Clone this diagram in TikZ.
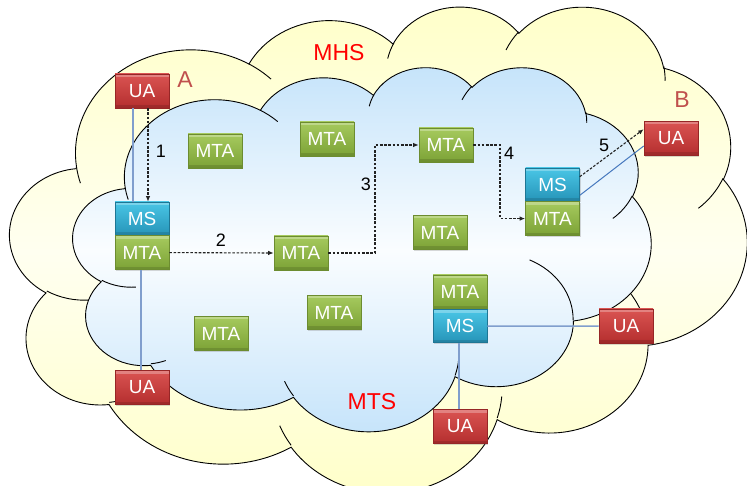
\documentclass[tikz,border=0pt]{standalone}
\usepackage{fontspec}
\setmainfont{Liberation Sans}
\usetikzlibrary{arrows.meta,shadows}

\definecolor{mhsfillA}{RGB}{255,255,200}
\definecolor{mhsfillB}{RGB}{255,255,240}
\definecolor{mtsfillA}{RGB}{196,227,250}
\definecolor{mtsfillB}{RGB}{250,253,255}
\definecolor{uatop}{RGB}{218,84,82}
\definecolor{uabot}{RGB}{180,46,46}
\definecolor{uaedge}{RGB}{150,38,38}
\definecolor{mtatop}{RGB}{166,202,94}
\definecolor{mtabot}{RGB}{124,162,54}
\definecolor{mtaedge}{RGB}{108,140,48}
\definecolor{mstop}{RGB}{74,198,230}
\definecolor{msbot}{RGB}{38,148,184}
\definecolor{msedge}{RGB}{30,118,148}
\definecolor{linkblue}{RGB}{128,158,205}
\definecolor{linkdark}{RGB}{70,120,190}
\definecolor{labelred}{RGB}{255,0,0}
\definecolor{labelbrown}{RGB}{192,80,77}
\definecolor{flowgrey}{RGB}{35,35,35}

% elliptical arc given by a visual start angle and sweep (converted to parametric angles)
\newcommand\cloudarc[4]{%
  \pgfextra{%
    \pgfmathparse{(#3)+atan(((#1)-(#2))*sin(#3)*cos(#3)/((#2)*cos(#3)*cos(#3)+(#1)*sin(#3)*sin(#3)))}%
    \xdef\cloudarcS{\pgfmathresult}%
    \pgfmathparse{(#3)+(#4)+atan(((#1)-(#2))*sin((#3)+(#4))*cos((#3)+(#4))/((#2)*cos((#3)+(#4))*cos((#3)+(#4))+(#1)*sin((#3)+(#4))*sin((#3)+(#4))))}%
    \xdef\cloudarcE{\pgfmathresult}%
  }%
  arc[start angle=\cloudarcS, end angle=\cloudarcE, x radius=#1, y radius=#2]%
}

% cloud outline in a 100 x 100 box
\newcommand\cloudoutline{%
  (9.0278,33.2639)
  \cloudarc{15.6319}{21.2731}{-190.4875}{123.7805}
  \cloudarc{12.3449}{16.8218}{-144.1024}{89.9452}
  \cloudarc{10.1042}{13.7616}{-145.8079}{99.7230}
  \cloudarc{11.2431}{15.2662}{-130.9861}{117.2417}
  \cloudarc{12.3449}{16.8356}{-78.7089}{109.0269}
  \cloudarc{15.6829}{21.3426}{-46.2673}{130.2690}
  \cloudarc{13.3912}{18.2106}{0.6250}{114.0333}
  \cloudarc{15.6296}{21.3310}{22.4516}{115.1726}
  \cloudarc{17.8704}{24.4051}{66.2426}{75.7110}
  \cloudarc{10.0926}{13.6991}{-274.9421}{146.7356}
  \cloudarc{10.0579}{13.7616}{-246.8285}{152.5189}
  -- cycle}

% inner creases of the cloud bumps
\newcommand\cloudcreases{%
  (10.8634,60.5949) \cloudarc{10.0579}{13.7616}{86.7420}{26.4295}
  (16.0370,80.7847) \cloudarc{10.0926}{13.6991}{73.6105}{11.4475}
  (38.1435,90.4861) \cloudarc{15.6296}{21.3310}{137.6242}{14.0811}
  (66.7292,80.4421) \cloudarc{15.6296}{21.3310}{6.4533}{15.9984}
  (79.0023,53.1343) \cloudarc{13.3912}{18.2106}{-70.2924}{70.9174}
  (96.7546,35.5417) \cloudarc{12.3449}{16.8356}{30.3180}{27.7515}
  (88.7130,12.5602) \cloudarc{11.2431}{15.2662}{-13.7443}{14.8589}
  (67.3102,9.1481) \cloudarc{11.2431}{15.2662}{-149.1815}{18.1954}
  (51.2523,10.9259) \cloudarc{10.1042}{13.7616}{-163.4943}{17.6864}
  (32.4074,12.0185) \cloudarc{15.6319}{21.2731}{-66.7070}{12.3194}
  (9.5532,36.5486) \cloudarc{15.6319}{21.2731}{157.6544}{11.8582}}

\tikzset{
  cloudline/.style={draw=black, line width=0.9pt},
  box/.style={minimum width=54pt, minimum height=34pt, inner sep=0pt, text=white,
    font=\fontsize{19}{19}\selectfont, line width=0.6pt,
    drop shadow={shadow xshift=1.2pt, shadow yshift=-1.5pt, opacity=0.3},
    path picture={
      \fill[white, opacity=0.28] (path picture bounding box.north west) rectangle ([yshift=-3pt]path picture bounding box.north east);
      \fill[black, opacity=0.12] ([yshift=3pt]path picture bounding box.south west) rectangle (path picture bounding box.south east);
    }},
  uabox/.style={box, draw=uaedge, top color=uatop, bottom color=uabot},
  mtabox/.style={box, draw=mtaedge, top color=mtatop, bottom color=mtabot},
  msbox/.style={box, minimum height=33pt, draw=msedge, top color=mstop, bottom color=msbot},
  link/.style={draw=linkblue, line width=1.5pt},
  flow/.style={draw=flowgrey, line width=1.1pt, dash pattern=on 2.6pt off 1.6pt,
    -{Latex[length=5.5pt, width=4.5pt]}},
  areaname/.style={text=labelred, font=\fontsize{23}{23}\selectfont},
  partyname/.style={text=labelbrown, font=\fontsize{23}{23}\selectfont},
  stepno/.style={text=black, font=\fontsize{18}{18}\selectfont},
}

\begin{document}
\begin{tikzpicture}[x=1pt, y=-1pt]
\useasboundingbox (0,0) rectangle (747,486);
\fill[white] (0,0) rectangle (747,486);

% MHS cloud
\begin{scope}[shift={(10,5.5)}, x=1cm, y=1cm, xscale=0.259025, yscale=-0.170810]
  \path[cloudline, top color=mhsfillA, bottom color=mhsfillA, middle color=mhsfillB] \cloudoutline;
  \draw[line width=0.9pt] \cloudcreases;
\end{scope}

% MTS cloud
\begin{scope}[shift={(73,66.5)}, x=1cm, y=1cm, xscale=0.203143, yscale=-0.127931]
  \path[cloudline, top color=mtsfillA, bottom color=mtsfillA, middle color=mtsfillB] \cloudoutline;
  \draw[line width=0.9pt] \cloudcreases;
\end{scope}

% user agents, message stores and transfer agents
\node[uabox] (uaA) at (142,91) {UA};
\node[msbox] (msA) at (142,218.5) {MS};
\node[mtabox, anchor=north] (mtaA) at (msA.south) {MTA};
\node[uabox] (uaC) at (142,387.5) {UA};

\node[mtabox] (mta1) at (215,151) {MTA};
\node[mtabox] (mta2) at (327,139) {MTA};
\node[mtabox] (mta3) at (446,145) {MTA};
\node[mtabox] (mta4) at (440,232.5) {MTA};
\node[mtabox] (mta5) at (301,253) {MTA};
\node[mtabox] (mta6) at (221,333.5) {MTA};
\node[mtabox] (mta7) at (334,312.5) {MTA};

\node[msbox] (msB) at (552.5,184.5) {MS};
\node[mtabox, anchor=north] (mtaB) at (msB.south) {MTA};
\node[uabox] (uaB) at (671,138.5) {UA};

\node[mtabox] (mtaC) at (460,292) {MTA};
\node[msbox, anchor=north] (msC) at (mtaC.south) {MS};
\node[uabox] (uaD) at (626,326) {UA};
\node[uabox] (uaE) at (460,426.5) {UA};

% access links
\draw[link] ([xshift=-9pt]uaA.south) -- ([xshift=-9pt]msA.north);
\draw[link] ([xshift=-1pt]mtaA.south) -- ([xshift=-1pt]uaC.north);
\draw[link] (msC.east) -- (uaD.west);
\draw[link] ([xshift=-1pt]msC.south) -- ([xshift=-1pt]uaE.north);
\draw[draw=linkdark, line width=1pt] ([yshift=6pt]msB.south east) -- ([yshift=-7.5pt]uaB.west);

% message route
\coordinate (turn3) at (375,0);
\coordinate (turn4) at (500,0);
\draw[flow] ([xshift=6pt]uaA.south) -- ([xshift=6pt]msA.north);
\draw[flow] (mtaA.east) -- (mta5.west);
\draw[flow] (mta5.east) -- (mta5.east -| turn3) -- (mta3.west -| turn3) -- (mta3.west);
\draw[flow] (mta3.east) -- (mta3.east -| turn4) -- (mtaB.west -| turn4) -- (mtaB.west);
\draw[flow] ([yshift=-9pt]msB.north east) -- ([yshift=-8pt]uaB.north west);

% labels
\node[areaname] (mhs) at (339,53) {MHS};
\node[areaname] (mts) at (372,402) {MTS};
\node[partyname] (lblA) at (185,80) {A};
\node[partyname] (lblB) at (682,100) {B};
\node[stepno] (s1) at (161,151) {1};
\node[stepno] (s2) at (221,240) {2};
\node[stepno] (s3) at (366,184) {3};
\node[stepno] (s4) at (509,153) {4};
\node[stepno] (s5) at (604,145) {5};
\end{tikzpicture}
\end{document}
